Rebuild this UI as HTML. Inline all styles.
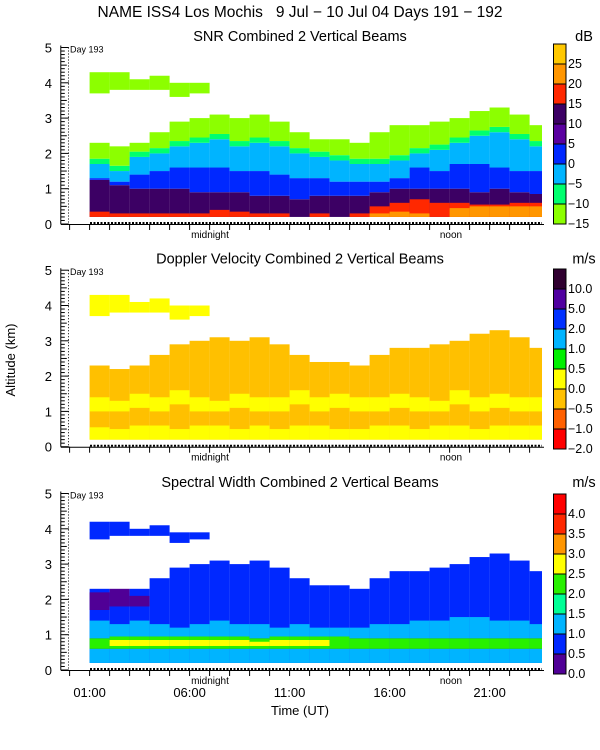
<!DOCTYPE html>
<html><head><meta charset="utf-8">
<style>
html,body{margin:0;padding:0;background:#fff;}
svg{display:block;font-family:"Liberation Sans",sans-serif;}
</style></head>
<body>
<svg id="chart" width="600" height="750" viewBox="0 0 600 750">
<text x="300" y="17" font-size="15.5" text-anchor="middle">NAME ISS4 Los Mochis &#160;&#160;9 Jul − 10 Jul 04 Days 191 − 192</text>
<text x="15" y="360" font-size="13" text-anchor="middle" transform="rotate(-90 15 360)">Altitude (km)</text>
<text x="300" y="715" font-size="13" text-anchor="middle">Time (UT)</text>
<g id="panels"></g>
</svg>
<script>
// hourly bins starting 01:00 UT
const hours = [1,2,3,4,5,6,7,8,9,10,11,12,13,14,15,16,17,18,19,20,21,22,23];
// SNR layer tops (km)
const snrOrangeTop = [0,0,0,0,0,0,0,0,0,0,0,0,0,0,0.3,0.35,0.3,0,0.45,0.5,0.5,0.5,0.5];
const snrRedTop    = [0.35,0.3,0.3,0.3,0.3,0.3,0.4,0.35,0.3,0.3,0.2,0.3,0.2,0.3,0.5,0.6,0.7,0.6,0.6,0.55,0.55,0.6,0.6];
const snrPurpleTop = [1.25,1.1,1.0,1.0,1.0,0.9,0.9,0.9,0.8,0.8,0.7,0.8,0.8,0.8,0.9,1.0,1.0,1.0,1.0,0.9,1.0,0.9,0.85];
const snrBlueTop   = [1.3,1.2,1.4,1.5,1.6,1.6,1.6,1.5,1.5,1.4,1.3,1.3,1.2,1.2,1.2,1.3,1.6,1.5,1.7,1.7,1.6,1.5,1.5];
const snrCyanTop   = [1.7,1.5,1.9,2.0,2.2,2.3,2.4,2.2,2.3,2.2,2.0,1.9,1.8,1.7,1.7,1.8,2.0,2.1,2.3,2.5,2.6,2.4,2.2];
const snrGreenTop  = [2.3,2.2,2.3,2.6,2.9,3.0,3.1,3.0,3.1,2.9,2.6,2.4,2.4,2.3,2.6,2.8,2.8,2.9,3.0,3.2,3.3,3.1,2.8];
const upperBottom  = [3.7,3.8,3.8,3.8,3.6,3.7,0,0,0,0,0,0,0,0,0,0,0,0,0,0,0,0,0];
const upperTop     = [4.3,4.3,4.1,4.2,4.0,4.0,0,0,0,0,0,0,0,0,0,0,0,0,0,0,0,0,0];
// Doppler layer tops (km)
const dopYellowLowTop = [0.55,0.5,0.6,0.6,0.5,0.6,0.6,0.5,0.6,0.5,0.6,0.6,0.5,0.5,0.6,0.6,0.5,0.6,0.6,0.5,0.6,0.6,0.6];
const dopYellowMidBot = [1.0,1.0,1.1,1.0,1.2,1.0,1.0,1.1,1.0,1.0,1.2,1.0,1.1,1.0,1.0,1.1,1.0,1.0,1.2,1.0,1.1,1.0,1.0];
const dopYellowMidTop = [1.4,1.3,1.5,1.4,1.6,1.4,1.3,1.5,1.4,1.4,1.6,1.4,1.5,1.4,1.4,1.5,1.4,1.3,1.6,1.4,1.5,1.4,1.4];
// Spectral width layer tops (km)
const swLowTop    = [0.6,0.6,0.6,0.6,0.6,0.6,0.6,0.6,0.6,0.6,0.6,0.6,0.6,0.6,0.6,0.6,0.6,0.6,0.6,0.6,0.6,0.6,0.6];
const swGreenTop  = [0.9,0.95,0.95,0.95,0.95,0.95,0.95,0.95,0.9,0.95,0.95,0.95,0.95,0.9,0.9,0.9,0.9,0.9,0.9,0.9,0.9,0.9,0.9];
const swCyanTop   = [1.4,1.3,1.4,1.3,1.2,1.3,1.4,1.3,1.3,1.2,1.3,1.2,1.2,1.2,1.3,1.3,1.4,1.4,1.5,1.5,1.4,1.4,1.3];
const swYellowOn  = [0,1,1,1,1,1,1,1,1,1,1,1,0,0,0,0,0,0,0,0,0,0,0];
const swPurpleBot = [1.7,1.8,1.8,0,0,0,0,0,0,0,0,0,0,0,0,0,0,0,0,0,0,0,0];
const swPurpleTop = [2.2,2.3,2.1,0,0,0,0,0,0,0,0,0,0,0,0,0,0,0,0,0,0,0,0];

const snrColors = ['#ffc800','#ff9600','#ff2800','#3c0064','#5a00a0','#0028ff','#00b4ff','#00ff6e','#8cff00'];
const snrTicks = ['25','20','15','10','5','0','−5','−10','−15'];
const dopColors = ['#300030','#5000a0','#0030ff','#00b4ff','#00f000','#ffff00','#ffc000','#ff6000','#ff0000'];
const dopTicks = ['10.0','5.0','2.0','1.0','0.5','0.0','−0.5','−1.0','−2.0'];
const swColors = ['#ff0000','#ff2800','#ff9600','#ffff00','#28f000','#00ff96','#00b4ff','#0028ff','#500096'];
const swTicks = ['4.0','3.5','3.0','2.5','2.0','1.5','1.0','0.5','0.0'];
const xTickLabels = ['01:00','06:00','11:00','16:00','21:00'];
const xTickHours = [1,6,11,16,21];

const NS='http://www.w3.org/2000/svg';
const root=document.getElementById('panels');
const X0=69.6, PXH=20, PXKM=35.3, XEND=542;
function xs(h){return X0+h*PXH;}
function mk(tag,attrs,parent){const e=document.createElementNS(NS,tag);for(const k in attrs)e.setAttribute(k,attrs[k]);(parent||root).appendChild(e);return e;}

function band(g,i,a0,a1,color,y0){
  if(!(a1>a0))return;
  const x1=xs(hours[i]), x2=Math.min(xs(hours[i]+1),XEND);
  const r=mk('rect',{x:x1,y:y0-a1*PXKM,width:x2-x1,height:(a1-a0)*PXKM,fill:color},g);
  
  
}

function frame(y0,title,unit,colors,ticks,cbTop,showTimeLabels,key){
  const g=mk('g',{});
  
  
  const t=mk('text',{x:300,y:y0-183,'font-size':14.5,'text-anchor':'middle'},g);t.textContent=title;
  
  const u=mk('text',{x:584,y:y0-183,'font-size':14.5,'text-anchor':'middle'},g);u.textContent=unit;
  
  const ag=mk('g',{},g);
  
  mk('line',{x1:60.8,y1:y0-5*PXKM-2,x2:60.8,y2:y0,stroke:'#000','stroke-width':1},ag);
  mk('line',{x1:60.8,y1:y0+0.5,x2:544,y2:y0+0.5,stroke:'#000','stroke-width':1},ag);
  for(let k=0;k<=50;k++){const yy=y0-k*PXKM/10;const L=(k%10==0)?8:(k%5==0?6:4);
    mk('line',{x1:60.8,y1:yy,x2:60.8+L,y2:yy,stroke:'#000','stroke-width':1},ag);}
  for(let k=0;k<=5;k++){const l=mk('text',{x:52,y:y0-k*PXKM+5,'font-size':13,'text-anchor':'end'},ag);l.textContent=String(k);
    }
  for(let h=0;h<=23;h++){mk('line',{x1:xs(h),y1:y0,x2:xs(h),y2:y0+6,stroke:'#000','stroke-width':1},ag);}
  mk('line',{x1:90,y1:y0-1,x2:542,y2:y0-1,stroke:'#000','stroke-width':2,'stroke-dasharray':'2 1.5'},ag);
  mk('line',{x1:68.5,y1:y0-5*PXKM,x2:68.5,y2:y0,stroke:'#000','stroke-width':1,'stroke-dasharray':'1 2'},ag);
  const d=mk('text',{x:70,y:y0-5*PXKM+5,'font-size':9},g);d.textContent='Day 193';
  
  const m=mk('text',{x:210,y:y0+14,'font-size':10,'text-anchor':'middle'},g);m.textContent='midnight';
  
  const n=mk('text',{x:451,y:y0+14,'font-size':10,'text-anchor':'middle'},g);n.textContent='noon';
  
  if(showTimeLabels){xTickHours.forEach((h,i)=>{const l=mk('text',{x:xs(h),y:y0+27,'font-size':13,'text-anchor':'middle'},g);l.textContent=xTickLabels[i];
    });}
  const cb=mk('g',{},g);
  
  colors.forEach((c,i)=>{mk('rect',{x:553.5,y:cbTop+i*20,width:12.5,height:20,fill:c,stroke:'#000','stroke-width':1},cb);
    const l=mk('text',{x:568,y:cbTop+(i+1)*20+4,'font-size':12.5},cb);l.textContent=ticks[i];
    });
  return g;
}

// Panel 1 SNR
(function(){
  const y0=224, g=mk('g',{});
  
  hours.forEach((h,i)=>{
    band(g,i,0.2,snrPurpleTop[i],snrColors[3],y0);
    band(g,i,0.2,snrRedTop[i],snrColors[2],y0);
    band(g,i,0.2,snrOrangeTop[i],snrColors[1],y0);
    band(g,i,snrPurpleTop[i],snrBlueTop[i],snrColors[5],y0);
    band(g,i,snrBlueTop[i],snrCyanTop[i],snrColors[6],y0);
    band(g,i,snrCyanTop[i],snrCyanTop[i]+0.15,snrColors[7],y0);
    band(g,i,snrCyanTop[i]+0.15,snrGreenTop[i],snrColors[8],y0);
    band(g,i,upperBottom[i],upperTop[i],snrColors[8],y0);
  });
  frame(y0,'SNR Combined 2 Vertical Beams','dB',snrColors,snrTicks,44,false,'snr');
})();
// Panel 2 Doppler
(function(){
  const y0=446.7, g=mk('g',{});
  
  hours.forEach((h,i)=>{
    band(g,i,0.2,snrGreenTop[i],dopColors[6],y0);
    band(g,i,0.2,dopYellowLowTop[i],dopColors[5],y0);
    band(g,i,dopYellowMidBot[i],dopYellowMidTop[i],dopColors[5],y0);
    band(g,i,upperBottom[i],upperTop[i],dopColors[5],y0);
  });
  frame(y0,'Doppler Velocity Combined 2 Vertical Beams','m/s',dopColors,dopTicks,269,false,'doppler');
})();
// Panel 3 Spectral width
(function(){
  const y0=670, g=mk('g',{});
  
  hours.forEach((h,i)=>{
    band(g,i,0.2,snrGreenTop[i],swColors[7],y0);
    band(g,i,0.2,swLowTop[i],swColors[6],y0);
    band(g,i,swLowTop[i],swGreenTop[i],swColors[4],y0);
    if(swYellowOn[i])band(g,i,swLowTop[i]+0.08,swGreenTop[i]-0.1,swColors[3],y0);
    band(g,i,swGreenTop[i],swCyanTop[i],swColors[6],y0);
    band(g,i,swPurpleBot[i],swPurpleTop[i],swColors[8],y0);
    band(g,i,upperBottom[i],upperTop[i]-0.1,swColors[7],y0);
  });
  frame(y0,'Spectral Width Combined 2 Vertical Beams','m/s',swColors,swTicks,494,true,'spectral-width');
})();
</script>
</body></html>
